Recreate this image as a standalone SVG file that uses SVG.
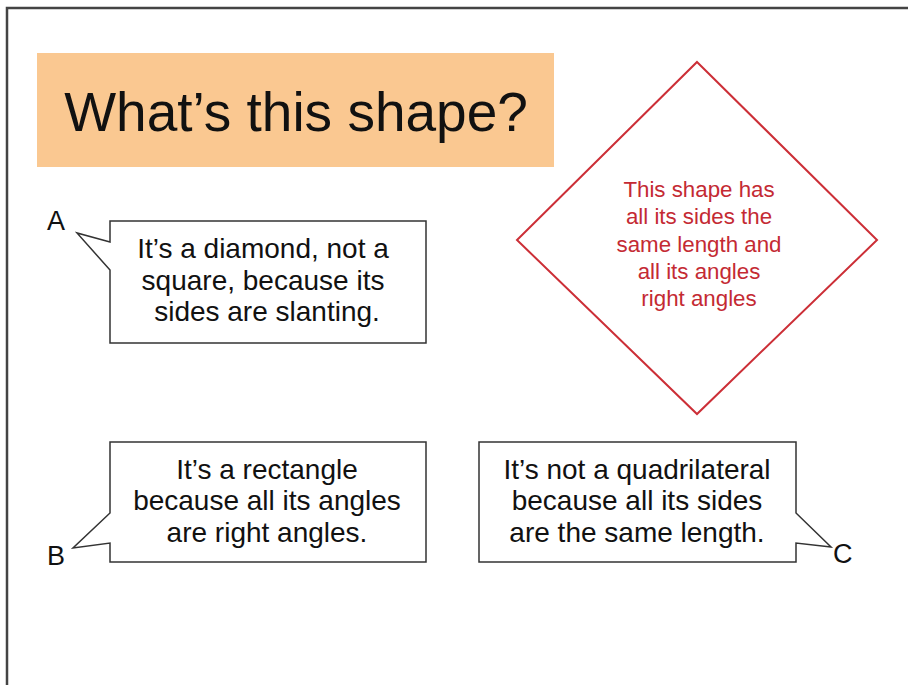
<svg xmlns="http://www.w3.org/2000/svg" width="908" height="685" viewBox="0 0 908 685">
<style>
.frame{fill:none;stroke:#444;stroke-width:2.5}
.bubble{fill:#fff;stroke:#333;stroke-width:1.5;stroke-linejoin:miter}
.t{font-family:"Liberation Sans",Arial,sans-serif;fill:#111;text-anchor:middle}
.bt{font-size:28px}
.lbl{font-family:"Liberation Sans",Arial,sans-serif;fill:#111;font-size:27px}
.red{font-family:"Liberation Sans",Arial,sans-serif;fill:#c42a33;font-size:22.3px;text-anchor:middle}
</style>
<rect width="908" height="685" fill="#fff"/>
<path class="frame" d="M7,685 V8 H908"/>
<g id="title">
<rect x="37" y="53" width="517" height="114" fill="#fac891"/>
<text class="t" x="296" y="131" font-size="55">What’s this shape?</text>
</g>
<g id="diamond">
<polygon points="697,62 877,240 697,414 517,240" fill="#fff" stroke="#cc2f37" stroke-width="2"/>
<text class="red" x="699" y="197">This shape has</text>
<text class="red" x="699" y="224">all its sides the</text>
<text class="red" x="699" y="252">same length and</text>
<text class="red" x="699" y="279">all its angles</text>
<text class="red" x="699" y="306">right angles</text>
</g>
<g id="bubbleA">
<path class="bubble" d="M110,221 H426 V343 H110 V270 L77,233 L110,242 Z"/>
<text class="t bt" x="263" y="258">It’s a diamond, not a</text>
<text class="t bt" x="263" y="290">square, because its</text>
<text class="t bt" x="267" y="321">sides are slanting.</text>
<text class="lbl" x="47" y="230">A</text>
</g>
<g id="bubbleB">
<path class="bubble" d="M110,442 H426 V562 H110 V543 L73,548 L110,513 Z"/>
<text class="t bt" x="267" y="479">It’s a rectangle</text>
<text class="t bt" x="267" y="510">because all its angles</text>
<text class="t bt" x="267" y="542">are right angles.</text>
<text class="lbl" x="47" y="565">B</text>
</g>
<g id="bubbleC">
<path class="bubble" d="M479,442 H796 V513 L831,547 L796,543 V562 H479 Z"/>
<text class="t bt" x="637" y="479">It’s not a quadrilateral</text>
<text class="t bt" x="637" y="510">because all its sides</text>
<text class="t bt" x="637" y="542">are the same length.</text>
<text class="lbl" x="833" y="563">C</text>
</g>
<g id="connectors"></g>
</svg>
